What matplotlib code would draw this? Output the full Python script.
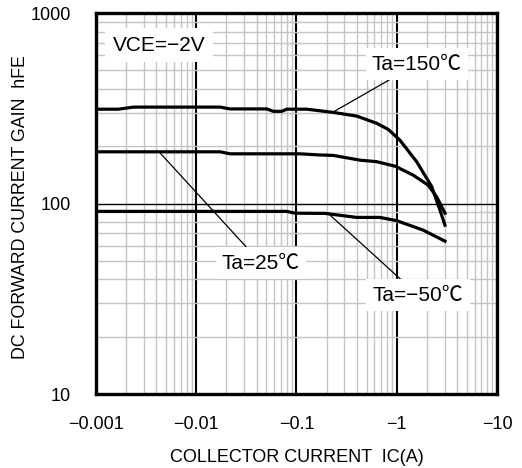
import numpy as np
import matplotlib
matplotlib.use('Agg')
import matplotlib.pyplot as plt
import matplotlib.ticker as mticker

plt.rcParams['font.family'] = ['Liberation Sans', 'Noto Sans CJK JP', 'DejaVu Sans']

# ---- data (collector current magnitude in A, hFE) ----
ic_150 = [0.001, 0.00167, 0.00236, 0.0173, 0.0217, 0.0505, 0.0588, 0.0712, 0.0798,
          0.1265, 0.233, 0.399, 0.631, 0.824, 1.078, 1.58, 2.23, 2.70, 3.03]
hfe_150 = [313, 313, 321, 321, 314, 314, 305, 305, 313,
           313, 301, 288, 264, 245, 215, 166, 123, 92.5, 77]

ic_25 = [0.001, 0.0173, 0.0217, 0.108, 0.17, 0.233, 0.43, 0.63, 0.97, 1.46, 2.06, 2.5, 3.03]
hfe_25 = [187, 187, 182.5, 182.5, 180, 179, 169, 166, 157, 141, 125, 108.6, 89]

ic_m50 = [0.001, 0.0798, 0.097, 0.193, 0.399, 0.68, 1.0, 1.83, 3.03]
hfe_m50 = [91, 91, 89, 88.8, 84.6, 84.6, 81.3, 72.6, 63.5]

x_ticks = [0.001, 0.01, 0.1, 1, 10]
x_labels = ['\u22120.001', '\u22120.01', '\u22120.1', '\u22121', '\u221210']
y_ticks = [10, 100, 1000]
y_labels = ['10', '100', '1000']

fig = plt.figure(figsize=(5.22, 4.68), dpi=100)
ax = fig.add_axes([0.184, 0.158, 0.768, 0.814])
ax.set_xscale('log')
ax.set_yscale('log')
ax.set_xlim(0.001, 10)
ax.set_ylim(10, 1000)

# grid
ax.xaxis.set_minor_locator(mticker.LogLocator(base=10, subs=np.arange(2, 10)))
ax.yaxis.set_minor_locator(mticker.LogLocator(base=10, subs=np.arange(2, 10)))
ax.xaxis.set_minor_formatter(mticker.NullFormatter())
ax.yaxis.set_minor_formatter(mticker.NullFormatter())
ax.grid(which='minor', color='#c4c4c4', lw=1.0, zorder=0)
ax.grid(which='major', axis='x', color='black', lw=1.5, zorder=1)
ax.grid(which='major', axis='y', color='black', lw=1.0, zorder=1)

ax.set_xticks(x_ticks)
ax.set_xticklabels(x_labels)
ax.set_yticks(y_ticks)
ax.set_yticklabels(y_labels)
ax.tick_params(which='both', length=0, labelsize=13)
ax.tick_params(axis='x', pad=16)
ax.tick_params(axis='y', pad=18)

for s in ax.spines.values():
    s.set_linewidth(2.4)
    s.set_zorder(5)

# curves
for ic, hfe in [(ic_150, hfe_150), (ic_25, hfe_25), (ic_m50, hfe_m50)]:
    ax.plot(ic, hfe, color='black', lw=2.3, zorder=3)

box = dict(boxstyle='square,pad=0.3', fc='white', ec='none')
arrow = dict(arrowstyle='-', color='black', lw=0.9, shrinkA=0, shrinkB=0)
ax.annotate('Ta=150\u2103', xy=(0.231, 302), xytext=(1.59, 540), ha='center', va='center',
            fontsize=15, bbox=box, arrowprops=arrow, zorder=4)
ax.annotate('Ta=25\u2103', xy=(0.00425, 187), xytext=(0.0443, 48.7), ha='center', va='center',
            fontsize=15, bbox=box, arrowprops=arrow, zorder=4)
ax.annotate('Ta=\u221250\u2103', xy=(0.206, 89), xytext=(1.63, 33.1), ha='center', va='center',
            fontsize=15, bbox=box, arrowprops=arrow, zorder=4)
ax.text(0.157, 0.916, 'VCE=\u22122V', transform=ax.transAxes, ha='center', va='center',
        fontsize=15, bbox=dict(boxstyle='square,pad=0.35', fc='white', ec='none'), zorder=4)

ax.set_xlabel('COLLECTOR CURRENT  IC(A)', fontsize=13)
ax.set_ylabel('DC FORWARD CURRENT GAIN  hFE', fontsize=12.8)
ax.xaxis.set_label_coords(0.5, -0.145)
ax.yaxis.set_label_coords(-0.167, 0.49)

fig.savefig('out.png', dpi=100)
